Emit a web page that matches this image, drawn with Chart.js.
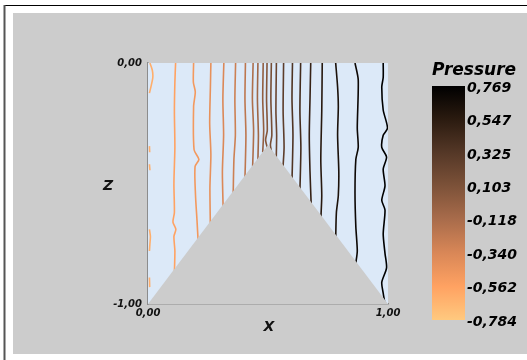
<!DOCTYPE html>
<html><head><meta charset="utf-8">
<script src="https://cdn.jsdelivr.net/npm/chart.js@4/dist/chart.umd.min.js"></script>
<style>html,body{margin:0;padding:0;background:#fff;}#wrap{width:527px;height:360px;position:relative;}</style>
</head><body><div id="wrap"><canvas id="c" width="527" height="360"></canvas></div>
<script>
// ---- data ----
const xTickValues = [0, 1];
const zTickValues = [-1, 0];
const xTitle = 'X';
const zTitle = 'Z';
const colorbarTitle = 'Pressure';
const colorbarMin = -0.784;
const colorbarMax = 0.769;
const colorbarTicks = [0.769, 0.547, 0.325, 0.103, -0.118, -0.340, -0.562, -0.784];
const wedge = [[0, -1], [0.5, -0.34], [1, -1]];
const contourLevels = [-0.63, -0.56, -0.49, -0.42, -0.35, -0.28, -0.21, -0.14, -0.07, 0.00, 0.07,
                       0.14, 0.21, 0.28, 0.35, 0.42, 0.49, 0.56, 0.63, 0.70, 0.77];
const contour00 = [[0.008,0],[0.018,-0.03],[0.02,-0.06],[0.012,-0.1],[0.006,-0.125],null,[0.006,-0.345],[0.007,-0.37],null,[0.006,-0.42],[0.008,-0.445],null,[0.006,-0.69],[0.01,-0.72],[0.008,-0.75],[0.006,-0.78],null,[0.006,-0.89],[0.007,-0.93]];
const contour01 = [[0.115,0],[0.112,-0.08],[0.11,-0.2],[0.112,-0.35],[0.108,-0.5],[0.11,-0.62],[0.104,-0.66],[0.116,-0.69],[0.108,-0.72],[0.112,-0.78],[0.11,-0.87]];
const contour02 = [[0.19,0],[0.189,-0.08],[0.197,-0.12],[0.19,-0.18],[0.192,-0.36],[0.212,-0.40],[0.196,-0.43],[0.198,-0.55],[0.204,-0.65],[0.21,-0.76]];
const contour03 = [[0.262,0],[0.26,-0.1],[0.257,-0.25],[0.262,-0.38],[0.258,-0.52],[0.26,-0.68]];
const contour04 = [[0.316,0],[0.312,-0.15],[0.315,-0.3],[0.31,-0.45],[0.313,-0.6]];
const contour05 = [[0.365,0],[0.362,-0.15],[0.364,-0.3],[0.358,-0.4],[0.355,-0.54]];
const contour06 = [[0.406,0],[0.404,-0.15],[0.408,-0.3],[0.404,-0.48]];
const contour07 = [[0.438,0],[0.435,-0.15],[0.44,-0.28],[0.436,-0.43]];
const contour08 = [[0.458,0],[0.456,-0.15],[0.46,-0.3],[0.458,-0.40]];
const contour09 = [[0.48,0],[0.478,-0.15],[0.482,-0.28],[0.478,-0.37]];
const contour10 = [[0.496,0],[0.494,-0.15],[0.497,-0.28],[0.49,-0.32],[0.5,-0.36]];
const contour11 = [[0.514,0],[0.512,-0.15],[0.516,-0.3],[0.51,-0.34],[0.515,-0.37]];
const contour12 = [[0.535,0],[0.533,-0.2],[0.536,-0.3],[0.534,-0.41]];
const contour13 = [[0.565,0],[0.563,-0.2],[0.567,-0.35],[0.562,-0.44]];
const contour14 = [[0.602,0],[0.6,-0.15],[0.604,-0.3],[0.6,-0.49]];
const contour15 = [[0.636,0],[0.633,-0.2],[0.637,-0.35],[0.633,-0.53]];
const contour16 = [[0.678,0],[0.675,-0.15],[0.672,-0.3],[0.675,-0.45],[0.68,-0.59]];
const contour17 = [[0.726,0],[0.724,-0.2],[0.72,-0.4],[0.724,-0.55],[0.72,-0.65]];
const contour18 = [[0.782,0],[0.79,-0.1],[0.793,-0.18],[0.79,-0.3],[0.795,-0.45],[0.793,-0.55],[0.785,-0.62],[0.782,-0.73]];
const contour19 = [[0.8625,0],[0.876,-0.07],[0.872,-0.27],[0.876,-0.35],[0.866,-0.40],[0.8625,-0.54],[0.866,-0.68],[0.872,-0.78],[0.866,-0.83]];
const contour20 = [[0.98,0],[0.98,-0.06],[0.974,-0.1],[0.98,-0.195],[0.998,-0.27],[0.98,-0.3],[0.974,-0.35],[0.994,-0.39],[0.98,-0.44],[0.9875,-0.51],[0.974,-0.57],[0.9875,-0.61],[0.98,-0.71],[0.9875,-0.79],[0.994,-0.85],[0.974,-0.91],[0.98,-0.955],[0.9875,-1]];
const contours = [contour00, contour01, contour02, contour03, contour04, contour05, contour06, contour07,
  contour08, contour09, contour10, contour11, contour12, contour13, contour14, contour15, contour16,
  contour17, contour18, contour19, contour20];

// ---- style ----
const cmapStops = [[0, '#ffc97f'], [0.143, '#ffa262'], [0.286, '#d98757'], [0.429, '#a96c4b'],
  [0.571, '#7d5239'], [0.714, '#553827'], [0.857, '#2b1b10'], [1, '#000000']];
function hex(c){return [parseInt(c.slice(1,3),16),parseInt(c.slice(3,5),16),parseInt(c.slice(5,7),16)];}
function cmap(v){
  let t = (v - colorbarMin) / (colorbarMax - colorbarMin);
  t = Math.max(0, Math.min(1, t));
  for (let i = 1; i < cmapStops.length; i++) {
    if (t <= cmapStops[i][0]) {
      const a = cmapStops[i-1], b = cmapStops[i];
      const f = (t - a[0]) / (b[0] - a[0]);
      const ca = hex(a[1]), cb = hex(b[1]);
      return 'rgb(' + ca.map((x, k) => Math.round(x + (cb[k] - x) * f)).join(',') + ')';
    }
  }
  return cmapStops[cmapStops.length-1][1];
}
const toPts = arr => arr.map(p => p ? {x: p[0], y: p[1]} : {x: null, y: null});
const FONT = '"DejaVu Sans", sans-serif';
const fmt2 = v => v.toFixed(2).replace('.', ',').replace('-0,00', '0,00');
const fmt3 = v => v.toFixed(3).replace('.', ',');

const datasets = [{
  label: 'wedge', data: toPts(wedge), showLine: true, fill: 'start',
  backgroundColor: '#cccccc', borderWidth: 0, pointRadius: 0, order: 0
}];
contours.forEach((c, i) => datasets.push({
  label: 'p' + contourLevels[i], data: toPts(c), showLine: true, fill: false,
  borderColor: cmap(contourLevels[i]), borderWidth: 1.6, pointRadius: 0, tension: 0.25,
  spanGaps: false, order: 1
}));

const framePlugin = {
  id: 'frame',
  beforeDraw(chart) {
    const ctx = chart.ctx;
    ctx.save();
    ctx.fillStyle = '#ffffff'; ctx.fillRect(0, 0, 527, 360);
    ctx.fillStyle = '#cccccc'; ctx.fillRect(13, 13, 514, 341);
    ctx.strokeStyle = '#000'; ctx.lineWidth = 1;
    ctx.beginPath(); ctx.moveTo(5, 5.5); ctx.lineTo(527, 5.5); ctx.stroke();
    ctx.strokeStyle = '#555'; ctx.lineWidth = 2;
    ctx.beginPath(); ctx.moveTo(4.5, 5); ctx.lineTo(4.5, 360); ctx.stroke();
    ctx.restore();
  },
  beforeDatasetsDraw(chart) {
    const a = chart.chartArea, ctx = chart.ctx;
    ctx.save(); ctx.fillStyle = '#dce9f8';
    ctx.fillRect(a.left, a.top, a.right - a.left, a.bottom - a.top);
    ctx.restore();
  },
  afterDraw(chart) {
    const ctx = chart.ctx;
    ctx.save();
    ctx.fillStyle = '#111';
    ctx.font = 'oblique bold 14px ' + FONT;
    ctx.textAlign = 'center'; ctx.textBaseline = 'middle';
    ctx.fillText(zTitle, 108, 186);
    ctx.fillText(xTitle, 269, 327);
    // colorbar
    const bx = 432, bw = 33, by0 = 86, by1 = 320;
    const g = ctx.createLinearGradient(0, by1, 0, by0);
    cmapStops.forEach(s => g.addColorStop(s[0], s[1]));
    ctx.fillStyle = g; ctx.fillRect(bx, by0, bw, by1 - by0);
    ctx.fillStyle = '#000';
    ctx.font = 'oblique bold 17px ' + FONT;
    ctx.textAlign = 'left'; ctx.textBaseline = 'alphabetic';
    ctx.fillText(colorbarTitle, 432, 75);
    ctx.font = 'oblique bold 14px ' + FONT;
    ctx.textBaseline = 'middle';
    colorbarTicks.forEach(v => {
      const y = by1 - (v - colorbarMin) / (colorbarMax - colorbarMin) * (by1 - by0);
      ctx.fillText(fmt3(v), 467, y + 2);
    });
    ctx.restore();
  }
};

new Chart(document.getElementById('c'), {
  type: 'scatter',
  data: { datasets },
  options: {
    responsive: false, animation: false, devicePixelRatio: 1,
    layout: { padding: { left: 0, right: 139, top: 63, bottom: 16 } },
    plugins: { legend: { display: false }, tooltip: { enabled: false } },
    scales: {
      x: {
        type: 'linear', min: 0, max: 1, z: 1,
        afterBuildTicks: s => { s.ticks = xTickValues.map(v => ({ value: v })); },
        afterFit: s => { s.height = 40; },
        grid: { display: false, drawTicks: false },
        border: { display: true, color: '#8c8c8c', width: 1.5 },
        ticks: { color: '#111', padding: 3, maxRotation: 0, autoSkip: false,
          font: { family: FONT, style: 'oblique', weight: 'bold', size: 10 }, callback: v => fmt2(v) }
      },
      y: {
        type: 'linear', min: -1, max: 0, z: 1,
        afterBuildTicks: s => { s.ticks = zTickValues.map(v => ({ value: v })); },
        afterFit: s => { s.width = 148; },
        grid: { display: false, drawTicks: false },
        border: { display: true, color: '#8c8c8c', width: 1.5 },
        ticks: { color: '#111', padding: 6, autoSkip: false,
          font: { family: FONT, style: 'oblique', weight: 'bold', size: 10 }, callback: v => fmt2(v) }
      }
    }
  },
  plugins: [framePlugin]
});
</script></body></html>
